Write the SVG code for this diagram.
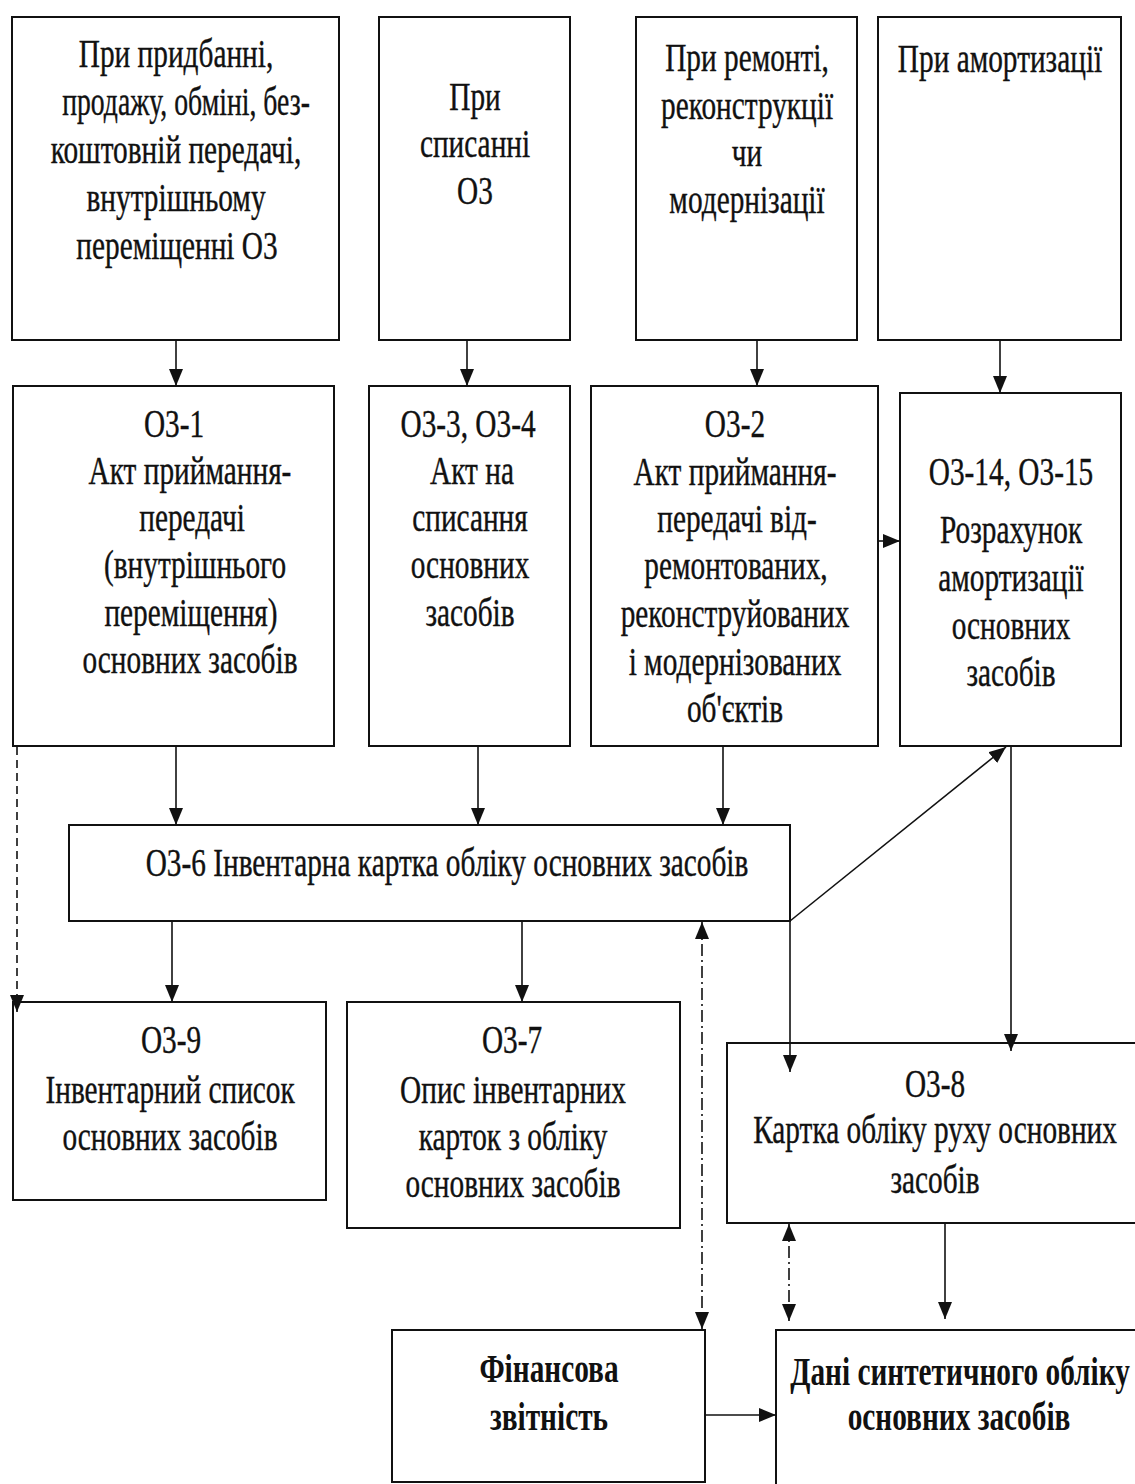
<svg xmlns="http://www.w3.org/2000/svg" width="1135" height="1484" viewBox="0 0 1135 1484">
<style>
.box{fill:#fff;stroke:#111;stroke-width:2}
.t{font-family:"Liberation Serif","Times New Roman",serif;font-size:41px;fill:#111;stroke:#111;stroke-width:0.4;text-anchor:middle;transform-box:fill-box;transform-origin:center;transform:scaleX(0.715)}
.n{transform:scaleX(0.675)}
.b{font-weight:bold;stroke-width:0}
.c{fill:none;stroke:#111;stroke-width:1.6}
.dash{stroke-dasharray:8 5}
.dd{stroke-dasharray:12 4 2 4}
</style>
<defs>
<marker id="ah" markerUnits="userSpaceOnUse" markerWidth="20" markerHeight="16" refX="17" refY="7" orient="auto-start-reverse">
<path d="M0,0 L17,7 L0,14 z" fill="#111"/>
</marker>
</defs>
<rect width="1135" height="1484" fill="#fff"/>

<g id="n-acq">
<rect class="box" x="12" y="17" width="327" height="323"/>
<text class="t" x="176" y="67">При придбанні,</text>
<text class="t n" x="186" y="115">продажу, обміні, без-</text>
<text class="t" x="176" y="163">коштовній передачі,</text>
<text class="t" x="176" y="211">внутрішньому</text>
<text class="t" x="177" y="259">переміщенні О3</text>
</g>
<g id="n-write">
<rect class="box" x="379" y="17" width="191" height="323"/>
<text class="t" x="475" y="110">При</text>
<text class="t" x="475" y="157">списанні</text>
<text class="t" x="475" y="204">О3</text>
</g>
<g id="n-repair">
<rect class="box" x="636" y="17" width="221" height="323"/>
<text class="t" x="747" y="71">При ремонті,</text>
<text class="t" x="747" y="119">реконструкції</text>
<text class="t" x="747" y="166">чи</text>
<text class="t" x="747" y="213">модернізації</text>
</g>
<g id="n-amort">
<rect class="box" x="878" y="17" width="243" height="323"/>
<text class="t" x="1000" y="72">При амортизації</text>
</g>

<g id="n-oz1">
<rect class="box" x="13" y="386" width="321" height="360"/>
<text class="t" x="174" y="437">О3-1</text>
<text class="t" x="190" y="484">Акт приймання-</text>
<text class="t" x="192" y="531">передачі</text>
<text class="t" x="195" y="578">(внутрішнього</text>
<text class="t" x="191" y="626">переміщення)</text>
<text class="t" x="190" y="673">основних засобів</text>
</g>
<g id="n-oz34">
<rect class="box" x="369" y="386" width="201" height="360"/>
<text class="t" x="468" y="437">О3-3, О3-4</text>
<text class="t" x="472" y="484">Акт на</text>
<text class="t" x="470" y="531">списання</text>
<text class="t" x="470" y="578">основних</text>
<text class="t" x="470" y="626">засобів</text>
</g>
<g id="n-oz2">
<rect class="box" x="591" y="386" width="287" height="360"/>
<text class="t" x="735" y="437">О3-2</text>
<text class="t" x="735" y="485">Акт приймання-</text>
<text class="t" x="737" y="532">передачі від-</text>
<text class="t" x="736" y="579">ремонтованих,</text>
<text class="t" x="735" y="627">реконструйованих</text>
<text class="t" x="735" y="675">і модернізованих</text>
<text class="t" x="735" y="722">об'єктів</text>
</g>
<g id="n-oz1415">
<rect class="box" x="900" y="393" width="221" height="353"/>
<text class="t" x="1011" y="485">О3-14, О3-15</text>
<text class="t" x="1011" y="543">Розрахунок</text>
<text class="t" x="1011" y="591">амортизації</text>
<text class="t" x="1011" y="639">основних</text>
<text class="t" x="1011" y="686">засобів</text>
</g>

<g id="n-oz6">
<rect class="box" x="69" y="825" width="721" height="96"/>
<text class="t" x="447" y="876">О3-6 Інвентарна картка обліку основних засобів</text>
</g>

<g id="n-oz9">
<rect class="box" x="13" y="1002" width="313" height="198"/>
<text class="t" x="171" y="1053">О3-9</text>
<text class="t" x="170" y="1103">Інвентарний список</text>
<text class="t" x="170" y="1150">основних засобів</text>
</g>
<g id="n-oz7">
<rect class="box" x="347" y="1002" width="333" height="226"/>
<text class="t" x="512" y="1053">О3-7</text>
<text class="t" x="513" y="1103">Опис інвентарних</text>
<text class="t" x="513" y="1150">карток з обліку</text>
<text class="t" x="513" y="1197">основних засобів</text>
</g>
<g id="n-oz8">
<rect class="box" x="727" y="1043" width="420" height="180"/>
<text class="t" x="935" y="1097">О3-8</text>
<text class="t" x="935" y="1143">Картка обліку руху основних</text>
<text class="t" x="935" y="1193">засобів</text>
</g>

<g id="n-fin">
<rect class="box" x="392" y="1330" width="313" height="152"/>
<text class="t b" x="549" y="1382">Фінансова</text>
<text class="t b" x="549" y="1430">звітність</text>
</g>
<g id="n-synth">
<rect class="box" x="776" y="1330" width="420" height="170"/>
<text class="t b" x="960" y="1385">Дані синтетичного обліку</text>
<text class="t b" x="959" y="1430">основних засобів</text>
</g>

<g id="connectors">
<line class="c" x1="176" y1="340" x2="176" y2="386" marker-end="url(#ah)"/>
<line class="c" x1="467" y1="340" x2="467" y2="386" marker-end="url(#ah)"/>
<line class="c" x1="757" y1="340" x2="757" y2="386" marker-end="url(#ah)"/>
<line class="c" x1="1000" y1="340" x2="1000" y2="393" marker-end="url(#ah)"/>
<line class="c" x1="176" y1="746" x2="176" y2="825" marker-end="url(#ah)"/>
<line class="c" x1="478" y1="746" x2="478" y2="825" marker-end="url(#ah)"/>
<line class="c" x1="723" y1="746" x2="723" y2="825" marker-end="url(#ah)"/>
<line class="c" x1="878" y1="541" x2="900" y2="541" marker-end="url(#ah)"/>
<line class="c dash" x1="17" y1="747" x2="17" y2="1012" marker-end="url(#ah)"/>
<line class="c" x1="172" y1="921" x2="172" y2="1002" marker-end="url(#ah)"/>
<line class="c" x1="522" y1="921" x2="522" y2="1002" marker-end="url(#ah)"/>
<line class="c" x1="790" y1="921" x2="1006" y2="747" marker-end="url(#ah)"/>
<line class="c" x1="790" y1="921" x2="790" y2="1072" marker-end="url(#ah)"/>
<line class="c" x1="1011" y1="746" x2="1011" y2="1051" marker-end="url(#ah)"/>
<line class="c dd" x1="702" y1="922" x2="702" y2="1329" marker-start="url(#ah)" marker-end="url(#ah)"/>
<line class="c dd" x1="789" y1="1224" x2="789" y2="1321" marker-start="url(#ah)" marker-end="url(#ah)"/>
<line class="c" x1="945" y1="1223" x2="945" y2="1319" marker-end="url(#ah)"/>
<line class="c" x1="705" y1="1415" x2="776" y2="1415" marker-end="url(#ah)"/>
</g>
</svg>
